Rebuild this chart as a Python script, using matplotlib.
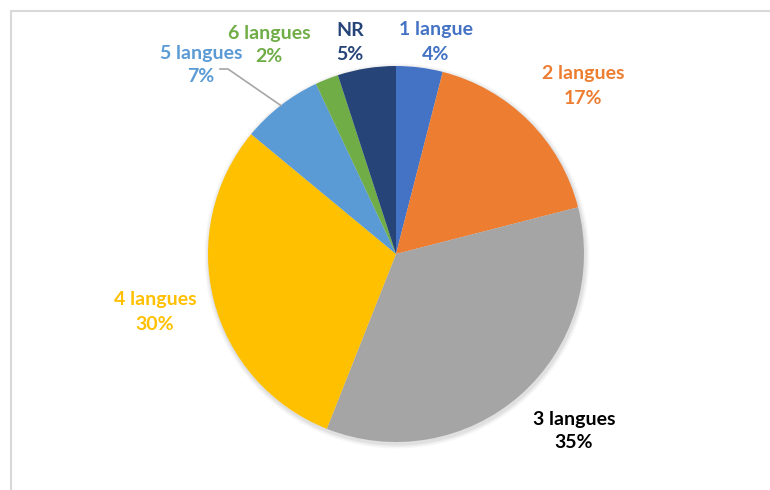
import matplotlib.pyplot as plt
import numpy as np
from matplotlib.patches import Rectangle

# data
categories = ['1 langue', '2 langues', '3 langues', '4 langues', '5 langues', '6 langues', 'NR']
values = [4, 17, 35, 30, 7, 2, 5]
slice_colors = ['#4472C4', '#ED7D31', '#A5A5A5', '#FFC000', '#5B9BD5', '#70AD47', '#264478']
label_colors = ['#4472C4', '#ED7D31', '#000000', '#FFC000', '#5B9BD5', '#70AD47', '#264478']

W, H = 770, 490
cx, cy, r = 396, H - 254, 188
# label centres in pixel coords (from top-left)
label_px = [(436, 42), (583, 86), (574, 431), (155, 312), (201, 65), (269, 45), (350, 42)]

plt.rcParams['font.family'] = ['Lato', 'DejaVu Sans']

fig = plt.figure(figsize=(W / 100, H / 100), dpi=100)
ax = fig.add_axes([0, 0, 1, 1])
ax.set_xlim(0, W)
ax.set_ylim(0, H)
ax.set_aspect('equal')
ax.axis('off')

# chart frame
ax.add_patch(Rectangle((10.5, -5), W, H - 11 + 5, fill=False, edgecolor='#D9D9D9', linewidth=1.5))

# soft shadow
for k, a in enumerate([0.05, 0.04, 0.03]):
    sh = plt.Circle((cx + 1, cy - 2), r + 1.5 + k * 1.5, color='black', alpha=a, linewidth=0)
    ax.add_patch(sh)

wedges, _ = ax.pie(values, colors=slice_colors, startangle=90, counterclock=False,
                   center=(cx, cy), radius=r, wedgeprops=dict(linewidth=0))

for name, v, col, (lx, ly) in zip(categories, values, label_colors, label_px):
    ax.text(lx, H - ly + 12, name, color=col, fontsize=14, fontweight='bold',
            ha='center', va='center')
    ax.text(lx, H - ly - 12, f'{v}%', color=col, fontsize=14, fontweight='bold',
            ha='center', va='center')

# leader line for 5 langues
w5 = wedges[4]
mid = np.deg2rad((w5.theta1 + w5.theta2) / 2)
ex, ey = cx + r * np.cos(mid), cy + r * np.sin(mid)
ax.plot([220, 228, ex], [H - 69, H - 69, ey], color='#A6A6A6', linewidth=1.2)

ax.set_xlim(0, W)
ax.set_ylim(0, H)
fig.savefig('out.png', dpi=100)
